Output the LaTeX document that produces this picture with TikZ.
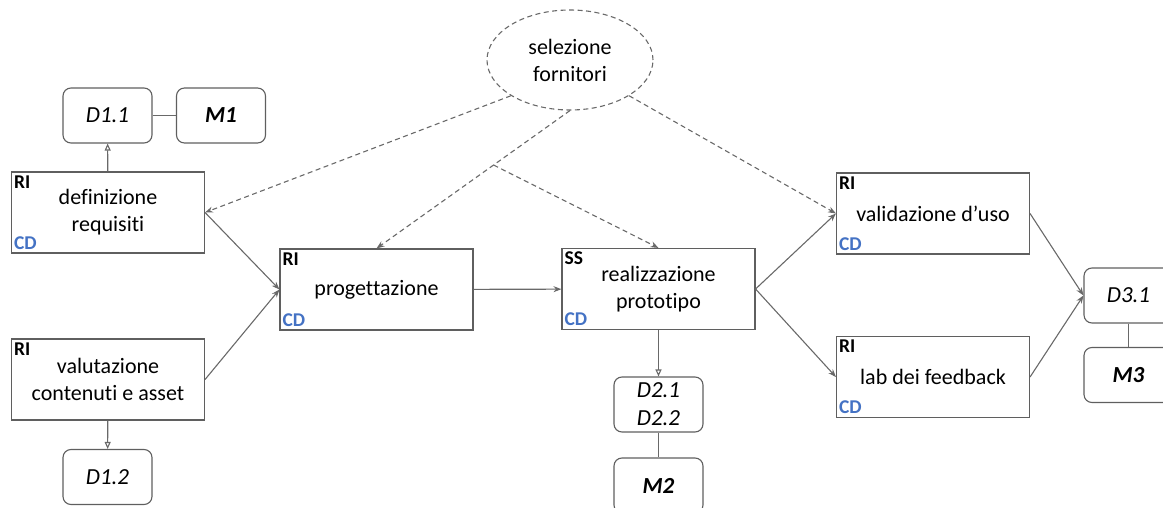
\documentclass[tikz,border=0pt]{standalone}
\usepackage{fontspec}
\setmainfont{Carlito}[Ligatures=NoCommon]
\usetikzlibrary{arrows.meta,shapes.geometric,calc}

\definecolor{linegray}{RGB}{105,105,105}
\definecolor{boxgray}{RGB}{95,95,95}
\definecolor{cdblue}{RGB}{68,114,196}

\tikzset{
	task/.style={draw=boxgray, line width=1.1pt, minimum width=193pt, minimum height=81pt, inner sep=0pt, align=center, font=\fontsize{22}{27}\selectfont},
	deliv/.style={draw=boxgray, line width=1.1pt, rounded corners=8pt, minimum width=89pt, minimum height=55pt, inner sep=0pt, align=center, font=\fontsize{23}{28}\selectfont\itshape},
	mile/.style={deliv, font=\fontsize{23}{27}\selectfont\bfseries\itshape},
	tagri/.style={inner xsep=3pt, inner ysep=4pt, font=\fontsize{19.5}{21}\selectfont\bfseries},
	tagcd/.style={tagri, text=cdblue},
	flow/.style={draw=linegray, line width=1.1pt, -{Stealth[length=8pt,width=6pt]}},
	dep/.style={flow, dashed, dash pattern=on 5pt off 3.5pt},
	produce/.style={draw=linegray, line width=1.1pt, -{Triangle[open,length=7pt,width=6pt]}},
	link/.style={draw=linegray, line width=1.1pt}
}

\begin{document}
\begin{tikzpicture}[x=1pt,y=-1pt]
		\useasboundingbox (0,0) rectangle (1163,508);

		\node[ellipse,draw=linegray,line width=1.1pt,dashed,dash pattern=on 5pt off 3.5pt,minimum width=166pt,minimum height=100pt,inner sep=0pt,align=center,font=\fontsize{22}{27}\selectfont] (sel) at (570,60){selezione\\fornitori};

		\node[task] (def) at (108,212.5){definizione\\requisiti};
		\node[tagri,anchor=north west] (def-ri) at (def.north west){RI};
		\node[tagcd,anchor=south west] (def-cd) at (def.south west){CD};

		\node[task] (valu) at (108,379.5){valutazione\\contenuti e asset};
		\node[tagri,anchor=north west] (valu-ri) at (valu.north west){RI};

		\node[task] (prog) at (376.5,289.5){progettazione};
		\node[tagri,anchor=north west] (prog-ri) at (prog.north west){RI};
		\node[tagcd,anchor=south west] (prog-cd) at (prog.south west){CD};

		\node[task] (real) at (658.5,289){realizzazione\\prototipo};
		\node[tagri,anchor=north west] (real-ss) at (real.north west){SS};
		\node[tagcd,anchor=south west] (real-cd) at (real.south west){CD};

		\node[task] (valid) at (933,213.5){validazione d’uso};
		\node[tagri,anchor=north west] (valid-ri) at (valid.north west){RI};
		\node[tagcd,anchor=south west] (valid-cd) at (valid.south west){CD};

		\node[task] (lab) at (933,377){lab dei feedback};
		\node[tagri,anchor=north west] (lab-ri) at (lab.north west){RI};
		\node[tagcd,anchor=south west] (lab-cd) at (lab.south west){CD};

		% deliverable e milestone
		\node[deliv] (d11) at (107.5,115.5){D1.1};
		\node[mile] (m1) at (221,115.5){M1};
		\node[deliv] (d12) at (107.5,477){D1.2};
		\node[deliv] (d2) at (658.5,404.5){D2.1\\D2.2};
		\node[mile] (m2) at (658.5,485.5){M2};
		\node[deliv] (d31) at (1128.5,295.5){D3.1};
		\node[mile] (m3) at (1128.5,375){M3};

		\draw[produce] (def) -- (d11);
		\draw[produce] (valu) -- (d12);
		\draw[produce] (real) -- (d2);
		\draw[link] (d11) -- (m1);
		\draw[link] (d2) -- (m2);
		\draw[link] (d31) -- (m3);

		\draw[flow] (def.east) -- (prog.west);
		\draw[flow] (valu.east) -- (prog.west);
		\draw[flow] (prog) -- (real);
		\draw[flow] (real.east) -- (valid.west);
		\draw[flow] (real.east) -- (lab.west);
		\draw[flow] (valid.east) -- (d31.west);
		\draw[flow] (lab.east) -- (d31.west);

		% fornitori
		\coordinate (br) at ($(sel.south)!0.395!(prog.north)$);
		\draw[dep] (sel.south west) -- (def.east);
		\draw[dep] (sel.south) -- (prog.north);
		\draw[dep] (br) -- (real.north);
		\draw[dep] (sel.south east) -- (valid.west);
	\end{tikzpicture}
\end{document}
